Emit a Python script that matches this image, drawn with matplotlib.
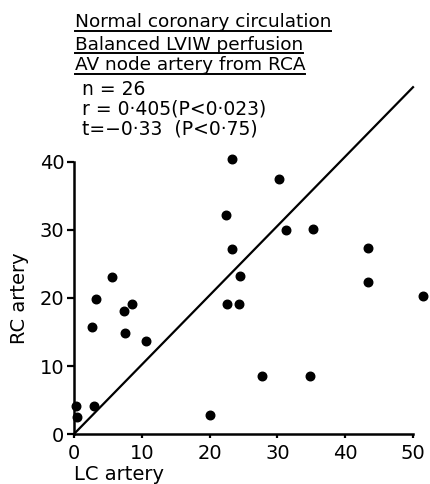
import matplotlib
matplotlib.use("Agg")
import matplotlib.pyplot as plt
from matplotlib.lines import Line2D

# LC artery (x) vs RC artery (y)
lc = [0.3, 0.5, 3.0, 2.6, 3.3, 5.6, 7.4, 8.6, 7.5, 10.6,
      20.0, 27.8, 34.8, 22.6, 24.4, 23.3, 30.3, 22.4, 31.3, 35.3,
      23.3, 43.3, 24.5, 43.3, 51.4]
rc = [4.1, 2.5, 4.1, 15.8, 19.9, 23.1, 18.1, 19.1, 14.8, 13.7,
      2.8, 8.5, 8.5, 19.1, 19.1, 40.4, 37.5, 32.2, 30.0, 30.1,
      27.2, 27.4, 23.3, 22.4, 20.3]
identity_x = [0, 50]
identity_y = [0, 51]

x_ticks = [0, 10, 20, 30, 40, 50]
y_ticks = [0, 10, 20, 30, 40]

title_lines = ["Normal coronary circulation",
               "Balanced LVIW perfusion",
               "AV node artery from RCA"]
stat_lines = ["n = 26",
              "r = 0\u00b7405(P<0\u00b7023)",
              "t=\u22120\u00b733  (P<0\u00b775)"]

plt.rcParams['font.family'] = ['DejaVu Sans']

fig = plt.figure(figsize=(4.30, 4.84), dpi=100)
ax = fig.add_axes([0.1721, 0.1033, 0.7884, 0.562])

ax.scatter(lc, rc, s=38, color='black', clip_on=False, zorder=3)
ax.plot(identity_x, identity_y, color='black', lw=1.6, clip_on=False)

ax.set_xlim(0, 50)
ax.set_ylim(0, 40)
ax.set_xticks(x_ticks)
ax.set_yticks(y_ticks)
ax.tick_params(axis='both', labelsize=14, width=1.6, direction='out')
ax.tick_params(axis='y', length=5, pad=2)
ax.tick_params(axis='x', length=3, pad=4)
for side in ['top', 'right']:
    ax.spines[side].set_visible(False)
for side in ['left', 'bottom']:
    ax.spines[side].set_linewidth(1.8)

ax.set_ylabel("RC artery", fontsize=14, labelpad=8)
fig.text(0.172, 0.008, "LC artery", fontsize=14, ha='left', va='baseline')

# heading lines, underlined
heads = []
for txt, yb in zip(title_lines, [0.944, 0.897, 0.855]):
    heads.append(fig.text(0.174, yb, txt, fontsize=13.3, ha='left', va='baseline'))
for txt, yb in zip(stat_lines, [0.804, 0.763, 0.722]):
    fig.text(0.19, yb, txt, fontsize=13.5, ha='left', va='baseline')

fig.canvas.draw()
r = fig.canvas.get_renderer()
inv = fig.transFigure.inverted()
for t in heads:
    bb = t.get_window_extent(r)
    x0, _ = inv.transform((bb.x0, 0))
    x1, _ = inv.transform((bb.x1, 0))
    yb = t.get_position()[1] - 3.5 / 484
    fig.add_artist(Line2D([x0, x1], [yb, yb], color='black', lw=1.4,
                          transform=fig.transFigure))

fig.savefig("out.png", dpi=100)
